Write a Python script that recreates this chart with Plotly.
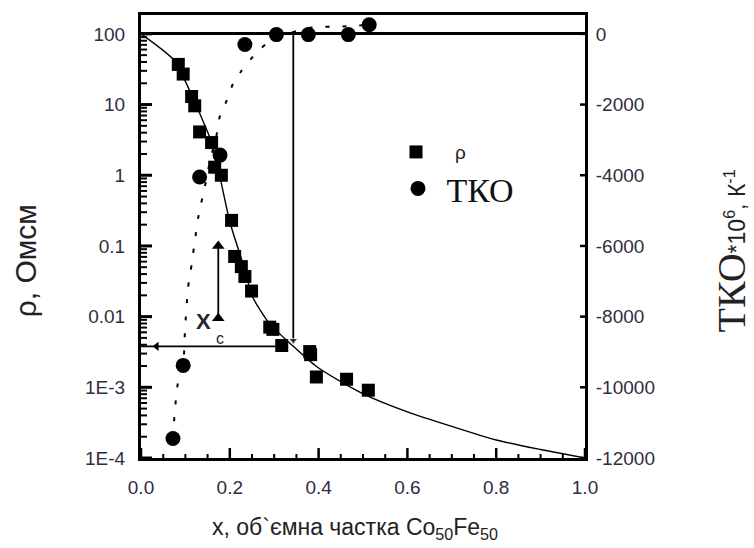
import numpy as np
import plotly.graph_objects as go

# Resistivity rho (Ohm*cm) vs volume fraction x of Co50Fe50
rho_x = [0.084, 0.095, 0.114, 0.121, 0.132, 0.159, 0.166, 0.181, 0.204, 0.211,
         0.226, 0.234, 0.249, 0.290, 0.297, 0.317, 0.380, 0.382, 0.395, 0.463, 0.512]
rho_val = [37, 27, 13, 9.6, 4.1, 2.9, 1.3, 1.0, 0.23, 0.071,
           0.051, 0.037, 0.023, 0.0071, 0.0066, 0.0039, 0.0032, 0.0029, 0.0014, 0.0013, 0.00091]

# Smooth guide curve for rho
rho_fit_x = [0.0, 0.075, 0.118, 0.136, 0.159, 0.172, 0.20, 0.23, 0.252, 0.29, 0.343,
             0.396, 0.45, 0.50, 0.60, 0.70, 0.80, 0.90, 1.0]
rho_fit = [100, 42, 12, 6.6, 2.95, 1.4, 0.22, 0.055, 0.0186, 0.0079, 0.0038,
           0.00195, 0.0012, 0.00081, 0.00045, 0.00028, 0.00018, 0.000132, 0.0001]

# Temperature coefficient of resistance (TKO * 10^6, 1/K)
tko_x = [0.072, 0.095, 0.132, 0.178, 0.234, 0.305, 0.377, 0.467, 0.514]
tko_val = [-11450, -9380, -4050, -3430, -300, -20, -20, -20, 260]

# Dotted guide curve for TKO
tko_fit_x = [0.072, 0.076, 0.083, 0.095, 0.099, 0.106, 0.114, 0.121, 0.132, 0.140,
             0.155, 0.170, 0.178, 0.193, 0.207, 0.226, 0.260, 0.290, 0.335, 0.370,
             0.403, 0.437, 0.470, 0.514]
tko_fit = [-11440, -10700, -9890, -9380, -8400, -7180, -6530, -5870, -4970, -4560,
           -3620, -2870, -2310, -1890, -1420, -1050, -530, -205, 20, 150,
           200, 200, 220, 260]

# Percolation threshold markers
x_c = 0.343
rho_c = 0.0038
rho_c_tip = 0.0046
xc_bar_x = 0.174
xc_bar_rho = [0.0095, 0.1]

# Axis ticks
x_ticks = [0.0, 0.2, 0.4, 0.6, 0.8, 1.0]
x_minor = [0.05, 0.1, 0.15, 0.25, 0.3, 0.35, 0.45, 0.5, 0.55, 0.65, 0.7, 0.75, 0.85, 0.9, 0.95]
rho_tickvals = [100, 10, 1, 0.1, 0.01, 1e-3, 1e-4]
rho_ticktext = ["100", "10", "1", "0.1", "0.01", "1E-3", "1E-4"]
rho_minor = [m * 10.0 ** e for e in range(-4, 2) for m in range(2, 10)]
tko_tickvals = [0, -2000, -4000, -6000, -8000, -10000, -12000]
tko_ticktext = ["0", "-2000", "-4000", "-6000", "-8000", "-10000", "-12000"]

RHO_RANGE = [-4, 2.267]
SANS = "Liberation Sans, Arial, sans-serif"
SERIF = "Liberation Serif, Times New Roman, serif"
TICK_COLOR = "#342c3e"

fig = go.Figure()

fig.add_trace(go.Scatter(x=rho_fit_x, y=rho_fit, mode="lines",
                         line=dict(color="black", width=1.4, shape="spline", smoothing=0.6),
                         showlegend=False, hoverinfo="skip"))
fig.add_trace(go.Scatter(x=tko_fit_x, y=tko_fit, mode="lines", yaxis="y2",
                         line=dict(color="black", width=2, dash="4px,13px", shape="spline", smoothing=0.6),
                         showlegend=False, hoverinfo="skip"))

# threshold lines
fig.add_trace(go.Scatter(x=[x_c, x_c], y=[100, rho_c_tip], mode="lines+markers",
                         line=dict(color="black", width=1.8),
                         marker=dict(symbol=["circle", "triangle-down"], size=[0, 8], color="black"),
                         showlegend=False, hoverinfo="skip"))
fig.add_trace(go.Scatter(x=[0.328, 0.0], y=[rho_c, rho_c], mode="lines",
                         line=dict(color="black", width=1.8), showlegend=False, hoverinfo="skip"))
fig.add_trace(go.Scatter(x=[0.035], y=[rho_c], mode="markers",
                         marker=dict(symbol="triangle-left", size=8, color="black"),
                         showlegend=False, hoverinfo="skip"))
fig.add_trace(go.Scatter(x=[xc_bar_x, xc_bar_x], y=xc_bar_rho, mode="lines+markers",
                         line=dict(color="black", width=1.8),
                         marker=dict(symbol="triangle-up", size=11, color="black"),
                         showlegend=False, hoverinfo="skip"))

fig.add_trace(go.Scatter(x=rho_x, y=rho_val, mode="markers", name="\u2003ρ",
                         marker=dict(symbol="square", size=13, color="black"),
                         legend="legend"))
fig.add_trace(go.Scatter(x=tko_x, y=tko_val, mode="markers", name="\u2005ТКО", yaxis="y2",
                         marker=dict(symbol="circle", size=15, color="black"),
                         legend="legend2"))

L, R, T, B = 141, 169, 12, 90
W, H = 754, 548
pw, ph = W - L - R, H - T - B

def px_x(px):
    return (px - L) / pw

def px_y(py):
    return (H - B - py) / ph

# inward tick marks, positioned through the axes' own coordinates
tick_shapes = []
for v in x_ticks:
    tick_shapes.append(dict(type="line", xref="x", yref="paper", x0=v, x1=v, y0=0, y1=10 / ph,
                            line=dict(color="black", width=2.5)))
for v in x_minor:
    tick_shapes.append(dict(type="line", xref="x", yref="paper", x0=v, x1=v, y0=0, y1=4 / ph,
                            line=dict(color="black", width=2)))
for v in rho_tickvals:
    tick_shapes.append(dict(type="line", xref="paper", yref="y", x0=0, x1=11 / pw, y0=v, y1=v,
                            line=dict(color="black", width=3)))
for v in rho_minor:
    tick_shapes.append(dict(type="line", xref="paper", yref="y", x0=0, x1=6 / pw, y0=v, y1=v,
                            line=dict(color="black", width=2)))
for v in tko_tickvals:
    tick_shapes.append(dict(type="line", xref="paper", yref="y2", x0=1, x1=1 - 5 / pw, y0=v, y1=v,
                            line=dict(color="black", width=2.5)))

fig.update_layout(
    width=W, height=H, autosize=False,
    margin=dict(l=L, r=R, t=T, b=B),
    paper_bgcolor="white", plot_bgcolor="white",
    font=dict(family=SANS, color="#222"),
    xaxis=dict(range=[0, 1], tickvals=x_ticks, tickformat=".1f", ticks="",
               showline=True, linewidth=3, linecolor="black", mirror=True,
               showgrid=False, zeroline=False,
               tickfont=dict(family=SANS, size=19, color=TICK_COLOR), ticklabelstandoff=10),
    yaxis=dict(type="log", range=RHO_RANGE, tickmode="array",
               tickvals=rho_tickvals, ticktext=rho_ticktext, ticks="",
               showline=True, linewidth=3, linecolor="black",
               showgrid=False, zeroline=False,
               tickfont=dict(family=SANS, size=19, color=TICK_COLOR), ticklabelstandoff=9),
    yaxis2=dict(overlaying="y", side="right", range=[-12000, 534], tickmode="array",
                tickvals=tko_tickvals, ticktext=tko_ticktext, ticks="",
                showline=True, linewidth=3, linecolor="black",
                showgrid=False, zeroline=True, zerolinecolor="black", zerolinewidth=3,
                tickfont=dict(family=SANS, size=19, color=TICK_COLOR), ticklabelstandoff=4),
    legend=dict(x=px_x(396), y=px_y(150), xanchor="left", yanchor="middle",
                font=dict(family=SANS, size=19, color="#222"), bgcolor="rgba(0,0,0,0)"),
    legend2=dict(x=px_x(398), y=px_y(187), xanchor="left", yanchor="middle",
                 font=dict(family=SERIF, size=34, color="#111"), bgcolor="rgba(0,0,0,0)"),
    shapes=tick_shapes,
)

annotations = [
    dict(text="ρ, Омсм", x=px_x(25), y=px_y(260), xref="paper", yref="paper",
         xanchor="center", yanchor="middle",
         textangle=-90, showarrow=False, font=dict(family=SANS, size=30, color="#222")),
    dict(text='<span style="font-family:Liberation Serif;font-size:40px">ТКО</span>*10<sup>6</sup>, К<sup>-1</sup>',
         x=px_x(731), y=px_y(250), xref="paper", yref="paper",
         xanchor="center", yanchor="middle",
         textangle=-90, showarrow=False, font=dict(family=SANS, size=23, color="#222")),
    dict(text="х, об`ємна частка Co<sub>50</sub>Fe<sub>50</sub>", x=px_x(355), y=px_y(529),
         xref="paper", yref="paper", xanchor="center", yanchor="middle", showarrow=False,
         font=dict(family=SANS, size=23, color="#222")),
    dict(text="<b>X</b>", x=0.141, y=np.log10(0.0085), xref="x", yref="y", showarrow=False,
         font=dict(family=SANS, size=22, color="#2a2433")),
    dict(text="c", x=0.178, y=np.log10(0.0049), xref="x", yref="y", showarrow=False,
         font=dict(family=SANS, size=16, color="#2a2433")),
]
fig.update_layout(annotations=annotations)

fig.write_html("out.html")
